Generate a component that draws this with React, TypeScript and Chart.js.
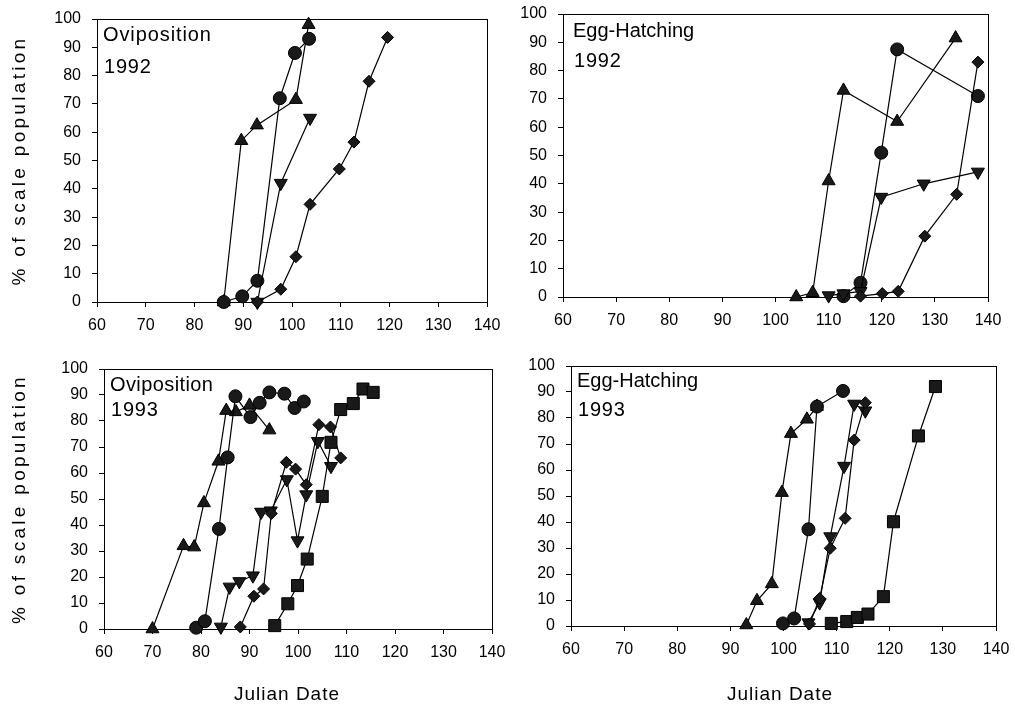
import React, { useEffect, useRef } from 'react';
import { Chart, registerables } from 'chart.js';

Chart.register(...registerables);

// ---------- data ----------
const xTickValues = [60, 70, 80, 90, 100, 110, 120, 130, 140];
const yTickValues = [0, 10, 20, 30, 40, 50, 60, 70, 80, 90, 100];

const panelTitles = ['Oviposition', 'Egg-Hatching', 'Oviposition', 'Egg-Hatching'];
const panelYears = ['1992', '1992', '1993', '1993'];
const yAxisTitle = '% of scale population';
const xAxisTitle = 'Julian Date';

// Oviposition 1992  [julian date, % of scale population]
const ovi92Triangle = [[86, 0], [89.6, 57], [92.8, 62.5], [100.8, 71.5], [103.4, 98]];
const ovi92Circle = [[86, 0], [89.8, 2], [92.9, 7.5], [97.5, 72], [100.6, 88], [103.5, 93]];
const ovi92Down = [[92.9, 0], [97.7, 42], [103.7, 65]];
const ovi92Diamond = [[92.9, 0], [97.7, 4.5], [100.8, 16], [103.7, 34.5], [109.7, 47], [112.7, 56.5], [115.8, 78], [119.6, 93.5]];

// Egg-Hatching 1992
const egg92Triangle = [[103.9, 0], [107, 1.5], [110, 41], [112.8, 73], [122.9, 62], [133.9, 91.5]];
const egg92Circle = [[112.8, 0.3], [116, 5], [119.9, 51], [122.9, 87.5], [138.1, 71]];
const egg92Down = [[110, 0.5], [112.8, 1.2], [116, 2], [119.9, 35.3], [127.9, 40], [138.1, 44.2]];
const egg92Diamond = [[116, 0.3], [120.1, 1.2], [123.1, 2], [128.1, 21.5], [134.1, 36.3], [138.1, 83]];

// Oviposition 1993
const ovi93Triangle = [[70, 0], [76.4, 32], [78.6, 31.5], [80.6, 48.5], [83.6, 64.5], [85.2, 84], [87.2, 83.5], [90, 86], [94.1, 76.5]];
const ovi93Circle = [[79, 0.5], [80.8, 3], [83.7, 38.5], [85.5, 66], [87.1, 89.5], [90.2, 81.5], [92.1, 87], [94.1, 91], [97.2, 90.5], [99.3, 85], [101.2, 87.5]];
const ovi93Down = [[84.1, 0.8], [85.9, 16.2], [87.9, 18.3], [90.7, 20.5], [92.4, 45], [94.4, 45.5], [97.7, 57.5], [99.9, 34], [101.7, 51.7], [104.1, 72.2], [106.8, 62.6]];
const ovi93Diamond = [[88.1, 0.8], [90.9, 12.6], [92.9, 15.4], [94.5, 44.4], [97.6, 64.1], [99.5, 61.5], [101.7, 55.5], [104.3, 78.6], [106.7, 77.7], [108.8, 65.8]];
const ovi93Square = [[95.2, 1.3], [97.9, 9.7], [99.9, 16.7], [101.9, 26.9], [105, 51], [106.8, 71.8], [108.8, 84.4], [111.4, 86.7], [113.4, 92.3], [115.5, 91]];

// Egg-Hatching 1993
const egg93Triangle = [[93, 0.4], [95, 9.7], [97.8, 16.2], [99.7, 51.3], [101.4, 74], [104.4, 79.5], [106.3, 84.4]];
const egg93Circle = [[99.9, 1], [102, 2.9], [104.7, 37.2], [106.3, 84.4], [111.2, 90.4]];
const egg93Down = [[104.7, 1.3], [106.8, 9], [108.8, 34.4], [111.4, 61.5], [113.3, 85.4], [115.4, 82.8]];
const egg93Diamond = [[104.9, 0.8], [106.8, 10.6], [108.8, 29.9], [111.6, 41.4], [113.3, 71.5], [115.4, 85.9]];
const egg93Square = [[109, 1], [111.9, 1.7], [113.9, 3.3], [115.9, 4.6], [118.8, 11.3], [120.7, 40.1], [125.4, 73.1], [128.6, 92.1]];

// ---------- styles ----------
const FONT = 'Liberation Sans';
type Marker = { pointStyle: string; rotation: number; radius: number };
const MARKERS: Record<string, Marker> = {
  triangle: { pointStyle: 'triangle', rotation: 0, radius: 7.5 },
  circle: { pointStyle: 'circle', rotation: 0, radius: 6.5 },
  down: { pointStyle: 'triangle', rotation: 180, radius: 7.5 },
  diamond: { pointStyle: 'rectRot', rotation: 0, radius: 6 },
  square: { pointStyle: 'rect', rotation: 0, radius: 8.5 },
};

type Panel = {
  left: number; top: number; w: number; h: number;
  yW: number;
  pad: { top: number; right: number; bottom: number; left: number };
  labelDx: number; labelDy1: number; labelDy2: number; labelSpacing: number;
  yTitle: boolean; xTitleX: number | null;
  series: [number[][], string][];
};

const PANELS: Panel[] = [
  {
    left: 0, top: 0, w: 507, h: 340, yW: 97,
    pad: { top: 19, right: 20, bottom: 8, left: 0 },
    labelDx: 6, labelDy1: 22, labelDy2: 54, labelSpacing: 0.9, yTitle: true, xTitleX: null,
    series: [[ovi92Diamond, 'diamond'], [ovi92Down, 'down'], [ovi92Circle, 'circle'], [ovi92Triangle, 'triangle']],
  },
  {
    left: 507, top: 0, w: 508, h: 340, yW: 56,
    pad: { top: 14, right: 27, bottom: 13, left: 0 },
    labelDx: 10, labelDy1: 23, labelDy2: 53, labelSpacing: 0, yTitle: false, xTitleX: null,
    series: [[egg92Diamond, 'diamond'], [egg92Down, 'down'], [egg92Circle, 'circle'], [egg92Triangle, 'triangle']],
  },
  {
    left: 0, top: 340, w: 507, h: 368, yW: 104,
    pad: { top: 29, right: 15, bottom: 49, left: 0 },
    labelDx: 6, labelDy1: 22, labelDy2: 47, labelSpacing: 0.4, yTitle: true, xTitleX: 287,
    series: [[ovi93Square, 'square'], [ovi93Diamond, 'diamond'], [ovi93Down, 'down'], [ovi93Circle, 'circle'], [ovi93Triangle, 'triangle']],
  },
  {
    left: 507, top: 340, w: 508, h: 368, yW: 64,
    pad: { top: 26, right: 19, bottom: 52, left: 0 },
    labelDx: 6, labelDy1: 21, labelDy2: 50, labelSpacing: 0, yTitle: false, xTitleX: 273,
    series: [[egg93Square, 'square'], [egg93Diamond, 'diamond'], [egg93Down, 'down'], [egg93Circle, 'circle'], [egg93Triangle, 'triangle']],
  },
];

function PanelChart({ panel, index }: { panel: Panel; index: number }) {
  const ref = useRef<HTMLCanvasElement | null>(null);

  useEffect(() => {
    if (!ref.current) return;
    const p = panel;
    const decoPlugin = {
      id: 'deco' + index,
      beforeDatasetsDraw(chart: any) {
        const { ctx, chartArea: a } = chart;
        ctx.save();
        ctx.strokeStyle = '#000';
        ctx.lineWidth = 1;
        ctx.strokeRect(Math.round(a.left) + 0.5, Math.round(a.top) + 0.5, Math.round(a.width), Math.round(a.height));
        ctx.fillStyle = '#000';
        ctx.font = `20px "${FONT}"`;
        ctx.textAlign = 'left';
        ctx.textBaseline = 'alphabetic';
        (ctx as any).letterSpacing = p.labelSpacing + 'px';
        ctx.fillText(panelTitles[index], a.left + p.labelDx, a.top + p.labelDy1);
        (ctx as any).letterSpacing = '0.8px';
        ctx.fillText(panelYears[index], a.left + p.labelDx + 1, a.top + p.labelDy2);
        if (p.yTitle) {
          ctx.save();
          ctx.font = `19px "${FONT}"`;
          (ctx as any).letterSpacing = '3.3px';
          ctx.translate(20, (a.top + a.bottom) / 2);
          ctx.rotate(-Math.PI / 2);
          ctx.textAlign = 'center';
          ctx.textBaseline = 'middle';
          ctx.fillText(yAxisTitle, 0, 0);
          ctx.restore();
        }
        if (p.xTitleX !== null) {
          ctx.font = `19px "${FONT}"`;
          (ctx as any).letterSpacing = '1px';
          ctx.textAlign = 'center';
          ctx.textBaseline = 'alphabetic';
          ctx.fillText(xAxisTitle, p.xTitleX, 360);
        }
        ctx.restore();
      },
    };

    const datasets = p.series.map(([arr, kind]) => {
      const m = MARKERS[kind];
      return {
        data: arr.map(([x, y]) => ({ x, y })),
        showLine: true,
        borderColor: '#000',
        borderWidth: 1.2,
        backgroundColor: '#1a1a1a',
        pointBackgroundColor: '#1a1a1a',
        pointBorderColor: '#000',
        pointBorderWidth: 1,
        pointStyle: m.pointStyle,
        pointRotation: m.rotation,
        pointRadius: m.radius,
        tension: 0,
        clip: false,
      };
    });

    const chart = new Chart(ref.current, {
      type: 'line',
      data: { datasets } as any,
      options: {
        responsive: false,
        animation: false,
        devicePixelRatio: 1,
        events: [],
        layout: { padding: p.pad, autoPadding: false },
        plugins: { legend: { display: false }, tooltip: { enabled: false }, title: { display: false } },
        scales: {
          x: {
            type: 'linear',
            min: 60,
            max: 140,
            afterBuildTicks: (s: any) => { s.ticks = xTickValues.map((v) => ({ value: v })); },
            afterFit: (s: any) => { s.height = 30; s.paddingLeft = 0; s.paddingRight = 0; },
            grid: { drawOnChartArea: false, drawTicks: true, tickLength: 5, color: '#000', lineWidth: 1 },
            border: { display: false },
            ticks: { color: '#000', font: { family: FONT, size: 16 }, padding: 9, maxRotation: 0, autoSkip: false },
          },
          y: {
            type: 'linear',
            min: 0,
            max: 100,
            afterBuildTicks: (s: any) => { s.ticks = yTickValues.map((v) => ({ value: v })); },
            afterFit: (s: any) => { s.width = p.yW; s.paddingTop = 0; s.paddingBottom = 0; },
            grid: { drawOnChartArea: false, drawTicks: true, tickLength: 5, color: '#000', lineWidth: 1 },
            border: { display: false },
            ticks: { color: '#000', font: { family: FONT, size: 16 }, padding: 11, autoSkip: false },
          },
        },
      } as any,
      plugins: [decoPlugin],
    });
    return () => chart.destroy();
  }, [panel, index]);

  return (
    <canvas
      ref={ref}
      width={panel.w}
      height={panel.h}
      style={{ position: 'absolute', left: panel.left, top: panel.top, width: panel.w, height: panel.h, display: 'block' }}
    />
  );
}

export default function App() {
  return (
    <div style={{ position: 'absolute', left: 0, top: 0, width: 1015, height: 708, background: '#fff', overflow: 'hidden' }}>
      {PANELS.map((p, i) => (
        <PanelChart key={i} panel={p} index={i} />
      ))}
    </div>
  );
}
